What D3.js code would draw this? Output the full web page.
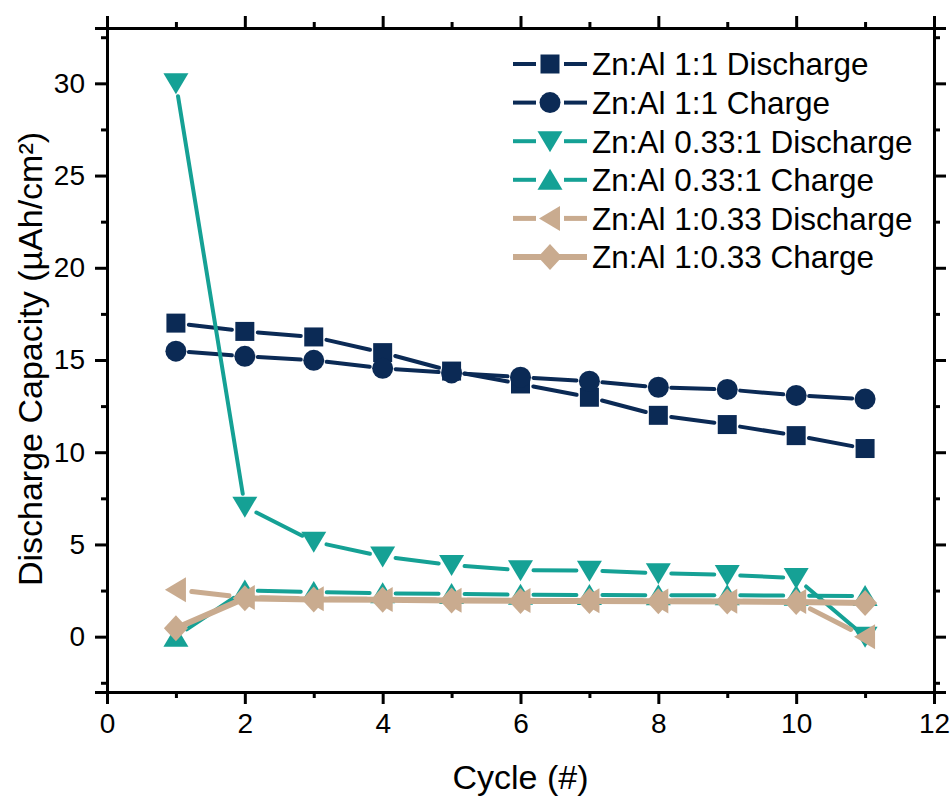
<!DOCTYPE html>
<html>
<head>
<meta charset="utf-8">
<script src="https://cdn.jsdelivr.net/npm/d3@7"></script>
<style>
  body { margin: 0; background: #fff; }
  text { font-family: Arial, "Liberation Sans", sans-serif; fill: #000; }
</style>
</head>
<body>
<script>
// cycle numbers on x
var cycles = [1, 2, 3, 4, 5, 6, 7, 8, 9, 10, 11];

// capacity values (µAh/cm²)
var zn11Discharge = [17.0, 16.55, 16.25, 15.4, 14.4, 13.7, 12.98, 12.0, 11.5, 10.9, 10.2];
var zn11Charge    = [15.48, 15.2, 14.98, 14.55, 14.3, 14.07, 13.85, 13.52, 13.4, 13.08, 12.88];
var zn033Discharge = [30.0, 7.05, 5.15, 4.35, 3.88, 3.6, 3.58, 3.44, 3.35, 3.18, 0.0];
var zn033Charge    = [0.0, 2.5, 2.42, 2.35, 2.32, 2.27, 2.26, 2.25, 2.25, 2.22, 2.2];
var al033Discharge = [2.55, 2.12, 2.05, 2.02, 1.98, 1.96, 1.95, 1.94, 1.92, 1.9, 0.0];
var al033Charge    = [0.45, 2.08, 2.02, 2.0, 1.96, 1.94, 1.93, 1.92, 1.9, 1.88, 1.82];

var seriesNames = ["Zn:Al 1:1 Discharge", "Zn:Al 1:1 Charge", "Zn:Al 0.33:1 Discharge",
                   "Zn:Al 0.33:1 Charge", "Zn:Al 1:0.33 Discharge", "Zn:Al 1:0.33 Charge"];

var xTicks = [0, 2, 4, 6, 8, 10, 12];
var yTicks = [0, 5, 10, 15, 20, 25, 30];

(function drawChart () {
  "use strict";
  var navy = "#0b2a55", teal = "#15a195", tan = "#c9ab8f";

  var series = [
    {name: seriesNames[0], values: zn11Discharge, color: navy, shape: "square", lw: 4, gap: 13},
    {name: seriesNames[1], values: zn11Charge, color: navy, shape: "circle", lw: 4, gap: 13},
    {name: seriesNames[2], values: zn033Discharge, color: teal, shape: "down", lw: 4, gap: 13},
    {name: seriesNames[3], values: zn033Charge, color: teal, shape: "up", lw: 4, gap: 13},
    {name: seriesNames[4], values: al033Discharge, color: tan, shape: "left", lw: 5, gap: 16},
    {name: seriesNames[5], values: al033Charge, color: tan, shape: "diamond", lw: 6, gap: 0}
  ];

  var W = 952, H = 796,
      pl = 107, pr = 934, pt = 28, pb = 692;

  var x = d3.scaleLinear().domain([0, 12]).range([pl, pr]);
  var y = d3.scaleLinear().domain([-3, 33]).range([pb, pt]);

  var svg = d3.select("body").append("svg")
      .attr("width", W)
      .attr("height", H);

  // symbol path centred on 0,0
  function symbolPath (shape) {
    var p = d3.path();
    switch (shape) {
      case "square":
        p.rect(-9.5, -9.5, 19, 19);
        break;
      case "circle":
        p.arc(0, 0, 10.5, 0, 2 * Math.PI);
        break;
      case "down":
        p.moveTo(-12.5, -10); p.lineTo(12.5, -10); p.lineTo(0, 11); p.closePath();
        break;
      case "up":
        p.moveTo(-12.5, 10); p.lineTo(12.5, 10); p.lineTo(0, -11); p.closePath();
        break;
      case "left":
        p.moveTo(10, -12.5); p.lineTo(10, 12.5); p.lineTo(-11, 0); p.closePath();
        break;
      default: // diamond
        p.moveTo(0, -13); p.lineTo(12, 0); p.lineTo(0, 13); p.lineTo(-12, 0); p.closePath();
    }
    return p.toString();
  }

  // line segments with a small gap before every symbol
  function segments (vals, gap) {
    var segs = [];
    for (var i = 1; i < vals.length; i++) {
      var x0 = x(cycles[i - 1]), y0 = y(vals[i - 1]),
          x1 = x(cycles[i]), y1 = y(vals[i]),
          len = Math.sqrt((x1 - x0) * (x1 - x0) + (y1 - y0) * (y1 - y0));
      if (len <= 2 * gap) continue;
      var ux = (x1 - x0) / len, uy = (y1 - y0) / len;
      segs.push([[x0 + ux * gap, y0 + uy * gap], [x1 - ux * gap, y1 - uy * gap]]);
    }
    return segs;
  }

  var line = d3.line();

  series.forEach(function (s) {
    var g = svg.append("g").attr("class", "series");
    g.selectAll("path.seg")
      .data(segments(s.values, s.gap))
      .enter().append("path")
      .attr("class", "seg")
      .attr("d", line)
      .attr("fill", "none")
      .attr("stroke", s.color)
      .attr("stroke-width", s.lw)
      .attr("stroke-linecap", "round");
    g.selectAll("path.sym")
      .data(s.values)
      .enter().append("path")
      .attr("class", "sym")
      .attr("d", symbolPath(s.shape))
      .attr("transform", function (d, i) { return "translate(" + x(cycles[i]) + "," + y(d) + ")"; })
      .attr("fill", s.color);
  });

  // axes: ticks point outward on all four sides
  var minorX = d3.range(1, 12, 2), minorY = [-2.5, 2.5, 7.5, 12.5, 17.5, 22.5, 27.5, 32.5];

  function axisGroup (axis, transform) {
    var g = svg.append("g").attr("transform", transform).call(axis);
    g.attr("font-size", 28).attr("font-family", "Arial, 'Liberation Sans', sans-serif");
    g.selectAll("path.domain").attr("stroke", "#000").attr("stroke-width", 3);
    g.selectAll(".tick line").attr("stroke", "#000").attr("stroke-width", 3);
    g.selectAll(".tick text").attr("fill", "#000");
    return g;
  }

  axisGroup(d3.axisBottom(x).tickValues(xTicks).tickSizeOuter(0).tickSize(12).tickPadding(9),
            "translate(0," + pb + ")");
  axisGroup(d3.axisBottom(x).tickValues(minorX).tickSize(6).tickFormat(""), "translate(0," + pb + ")");

  axisGroup(d3.axisTop(x).tickValues(xTicks).tickSizeOuter(0).tickSize(12).tickFormat(""),
            "translate(0," + pt + ")");
  axisGroup(d3.axisTop(x).tickValues(minorX).tickSize(6).tickFormat(""), "translate(0," + pt + ")");

  axisGroup(d3.axisLeft(y).tickValues(yTicks).tickSizeOuter(0).tickSize(12).tickPadding(10),
            "translate(" + pl + ",0)");
  axisGroup(d3.axisLeft(y).tickValues(minorY).tickSize(6).tickFormat(""), "translate(" + pl + ",0)");

  axisGroup(d3.axisRight(y).tickValues(yTicks).tickSizeOuter(0).tickSize(12).tickFormat(""),
            "translate(" + pr + ",0)");
  axisGroup(d3.axisRight(y).tickValues(minorY).tickSize(6).tickFormat(""), "translate(" + pr + ",0)");

  // axis titles
  svg.append("text")
      .attr("x", (pl + pr) / 2)
      .attr("y", 789)
      .attr("text-anchor", "middle")
      .attr("font-size", 34)
      .text("Cycle (#)");

  svg.append("text")
      .attr("transform", "translate(42," + 359 + ") rotate(-90)")
      .attr("text-anchor", "middle")
      .attr("font-size", 34)
      .text("Discharge Capacity (\u00b5Ah/cm\u00b2)");

  // legend
  var lg = svg.append("g").attr("transform", "translate(513,64)");
  series.forEach(function (s, i) {
    var row = lg.append("g").attr("transform", "translate(0," + (i * 38.6) + ")");
    var gl = s.gap === 0 ? 0 : 14;
    if (gl === 0) {
      row.append("line").attr("x1", 0).attr("x2", 74);
    } else {
      row.append("line").attr("x1", 0).attr("x2", 37 - gl);
      row.append("line").attr("x1", 37 + gl).attr("x2", 74);
    }
    row.selectAll("line")
      .attr("y1", 0).attr("y2", 0)
      .attr("stroke", s.color)
      .attr("stroke-width", s.lw);
    row.append("path")
      .attr("d", symbolPath(s.shape))
      .attr("transform", "translate(37,0)")
      .attr("fill", s.color);
    row.append("text")
      .attr("x", 79)
      .attr("y", 0)
      .attr("dy", "0.36em")
      .attr("font-size", 31.5)
      .text(s.name);
  });
})();
</script>
</body>
</html>
